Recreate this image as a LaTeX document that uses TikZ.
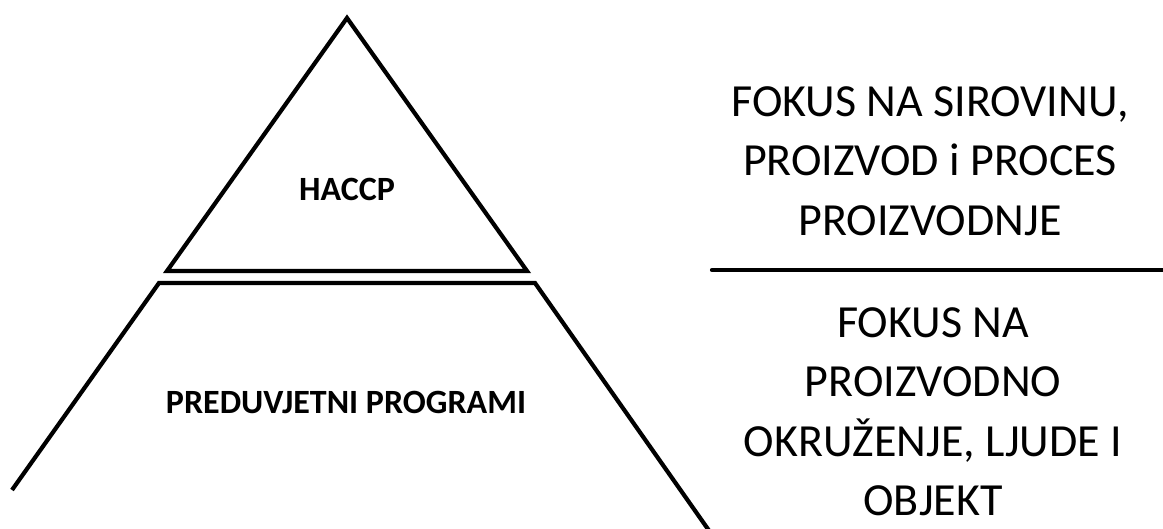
\documentclass[tikz,border=0pt]{standalone}
\usepackage{fontspec}
\setmainfont{Carlito}
\begin{document}
\begin{tikzpicture}[x=1pt,y=-1pt,
  edge/.style={line width=4.2pt, line join=miter},
  lvl/.style={font=\bfseries\fontsize{34}{40}\selectfont, inner sep=0pt},
  focus/.style={font=\fontsize{46}{59.5}\selectfont, align=center, inner sep=0pt, anchor=north}]
\useasboundingbox (0,0) rectangle (1163,529);
\fill[white] (0,0) rectangle (1163,529);
% top triangle
\coordinate (apex) at (347,18);
\coordinate (hl) at (167,271);
\coordinate (hr) at (527,271);
\draw[edge] (hl) -- (apex) -- (hr) -- cycle;
% lower trapezoid
\coordinate (pl) at (159,283);
\coordinate (pr) at (535,283);
\coordinate (bl) at (12,490);
\coordinate (br) at (710,532);
\draw[edge] (bl) -- (pl) -- (pr) -- (br);
% separator on the right
\coordinate (sl) at (712,270);
\coordinate (sr) at (1166,270);
\draw[edge, line cap=round] (sl) -- (sr);
% labels
\node[lvl] (haccp) at (347,189) {HACCP};
\node[lvl] (prp) at (346,402) {PREDUVJETNI PROGRAMI};
\node[focus] (f1) at (930,86) {FOKUS NA SIROVINU,\\PROIZVOD i PROCES\\PROIZVODNJE};
\node[focus] (f2) at (933,307) {FOKUS NA\\PROIZVODNO\\OKRUŽENJE, LJUDE I\\OBJEKT};
\end{tikzpicture}
\end{document}
